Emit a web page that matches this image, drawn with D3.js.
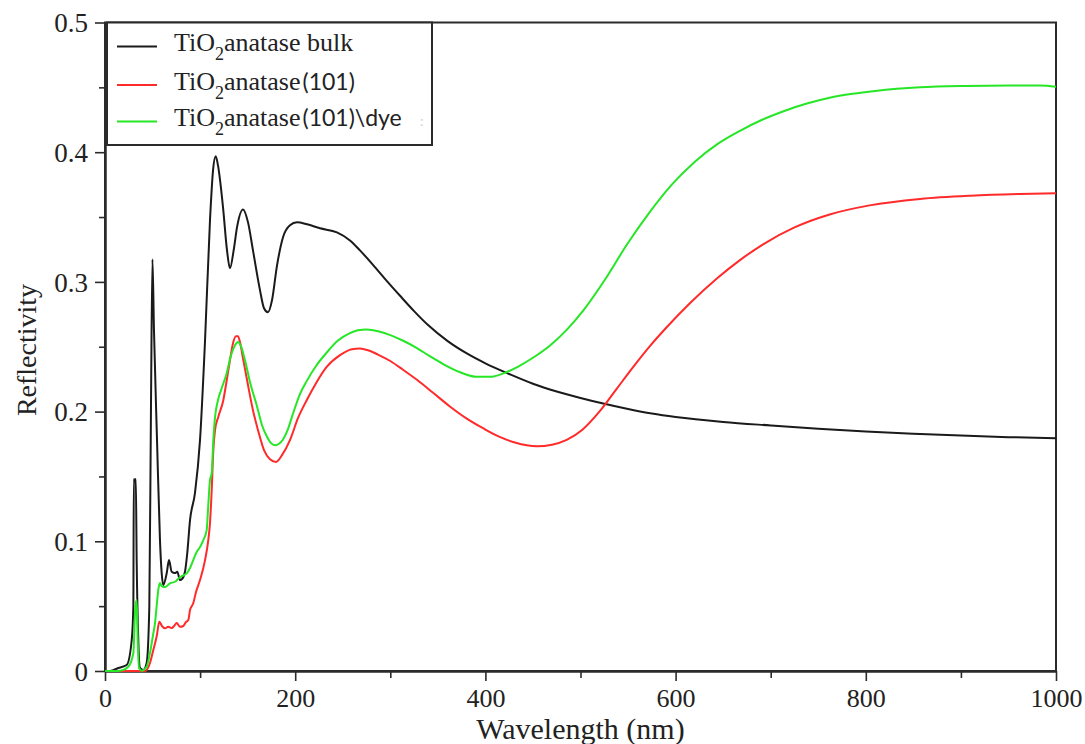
<!DOCTYPE html>
<html>
<head>
<meta charset="utf-8">
<script src="https://cdn.jsdelivr.net/npm/d3@7"></script>
<style>
  html, body { margin: 0; padding: 0; background: #fff; }
  svg { display: block; }
</style>
</head>
<body>
<svg id="chart" width="1085" height="744"></svg>
<script>
// Reflectivity spectra of anatase TiO2: bulk, (101) surface, and (101) surface with dye
const bulkNm = [0, 5.3, 14.0, 22.8, 28.1, 29.8, 30.3, 31.3, 32.4, 33.3, 35.0, 36.8, 40.3, 43.8, 46.6, 48.4, 49.9, 51.5, 54.7, 57.8, 59.6, 61.3, 64.9, 67.3, 70.1, 73.6, 76.0, 78.9, 81.0, 84.1, 86.5, 89.4, 94.6, 99.9, 105.2, 110.4, 113.6, 116.4, 118.8, 124.1, 128.3, 131.4, 135.6, 138.8, 145.1, 150.4, 155.6, 163.0, 167.2, 171.4, 175.6, 180.9, 187.2, 194.5, 201.9, 212.4, 226.1, 243.9, 257.6, 268.1, 282, 296, 310, 325, 340, 360, 380, 400, 425, 450, 475, 500, 525, 550, 575, 600, 650, 700, 750, 800, 850, 900, 950, 1000];
const bulkR = [0, 0, 0.0023, 0.0046, 0.0239, 0.0495, 0.148, 0.1456, 0.148, 0.0855, 0.0239, 0.0023, 0.0008, 0.0062, 0.0495, 0.2088, 0.3174, 0.2627, 0.178, 0.1009, 0.0755, 0.0663, 0.0755, 0.0855, 0.0765, 0.0755, 0.0765, 0.0701, 0.0709, 0.0765, 0.0909, 0.1163, 0.1371, 0.178, 0.255, 0.3475, 0.386, 0.3968, 0.3898, 0.3575, 0.3243, 0.3105, 0.3259, 0.342, 0.3559, 0.3459, 0.3243, 0.2935, 0.2797, 0.2766, 0.2858, 0.3128, 0.3344, 0.3436, 0.3459, 0.3444, 0.3413, 0.3382, 0.332, 0.3243, 0.313, 0.301, 0.2895, 0.2775, 0.2665, 0.2545, 0.245, 0.2372, 0.229, 0.2215, 0.2155, 0.2105, 0.206, 0.202, 0.1985, 0.1958, 0.192, 0.1893, 0.1868, 0.1847, 0.183, 0.1815, 0.1803, 0.1795];

const surfNm = [0, 30, 40.3, 42.1, 47.3, 50.8, 54.4, 57.1, 59.9, 63.1, 66.6, 70.1, 72.6, 75.4, 78.9, 82.3, 85.2, 87.6, 89.4, 92.8, 95.7, 99.9, 105.2, 108.6, 110.4, 112.2, 113.9, 115.7, 119.1, 124.4, 128.0, 131.4, 134.6, 137.7, 139.8, 142.0, 145.1, 150.4, 155.6, 160.9, 167.2, 173.5, 179.8, 186.1, 194.5, 202.9, 212.1, 221.9, 233.1, 247.1, 259.7, 268.1, 276.6, 287, 300, 313, 328, 345, 363, 380, 398, 415, 431, 454, 470, 485.5, 502, 520.5, 538, 555.5, 573, 590.6, 615, 644, 668, 692, 725, 762, 804, 857, 910, 962, 1000];
const surfR = [0, 0, 0, 0, 0.0062, 0.0162, 0.027, 0.038, 0.0347, 0.0329, 0.0341, 0.0331, 0.0347, 0.037, 0.0341, 0.0347, 0.0378, 0.0393, 0.047, 0.0522, 0.0609, 0.0701, 0.0855, 0.1009, 0.114, 0.1394, 0.1703, 0.1857, 0.1959, 0.2088, 0.2242, 0.2396, 0.2527, 0.2581, 0.2581, 0.2535, 0.2411, 0.2203, 0.2011, 0.1857, 0.1703, 0.1633, 0.1612, 0.1664, 0.178, 0.1949, 0.2088, 0.2219, 0.2344, 0.2435, 0.2481, 0.2486, 0.2473, 0.244, 0.239, 0.2325, 0.2245, 0.2145, 0.2038, 0.1948, 0.187, 0.1805, 0.1762, 0.1733, 0.1745, 0.1782, 0.186, 0.2005, 0.2175, 0.2345, 0.2505, 0.2650, 0.2835, 0.303, 0.317, 0.329, 0.342, 0.352, 0.359, 0.364, 0.3665, 0.3678, 0.3683];

const dyeNm = [0, 10, 15.8, 24.5, 29.8, 31.9, 33.3, 34.4, 35.8, 38.6, 43.8, 47.3, 50.5, 52.6, 54.4, 56.0, 57.8, 59.6, 63.1, 68.3, 73.6, 78.9, 83.1, 85.9, 89.4, 92.8, 96.4, 99.9, 103.4, 106.9, 108.3, 110.4, 112.2, 113.9, 115.7, 118.8, 122.0, 128.0, 132.5, 136.7, 139.8, 143.0, 147.2, 152.5, 159.5, 165.1, 170.1, 174.6, 178.8, 183.0, 187.2, 192.4, 197.7, 205.0, 212.1, 221.9, 233.1, 245.0, 257.6, 266.0, 275.2, 287, 300, 313, 328, 342, 356, 373, 391, 405, 419, 434, 450, 468, 485.5, 503, 526, 549, 573, 596, 620, 643.5, 667.7, 691, 715, 738, 762, 786, 810, 857, 904, 952, 983, 1000];
const dyeR = [0, 0, 0.0002, 0.0033, 0.0139, 0.0495, 0.0547, 0.0239, 0.0023, 0.0002, 0.0033, 0.0139, 0.0277, 0.037, 0.0508, 0.0624, 0.0678, 0.0655, 0.0647, 0.0676, 0.0688, 0.0724, 0.074, 0.0753, 0.0794, 0.0855, 0.0917, 0.0955, 0.1009, 0.1086, 0.124, 0.1471, 0.1525, 0.178, 0.1957, 0.2088, 0.2165, 0.2296, 0.2435, 0.2512, 0.2537, 0.2504, 0.2396, 0.2227, 0.2049, 0.1895, 0.181, 0.1757, 0.1741, 0.1752, 0.1785, 0.1865, 0.1985, 0.2135, 0.2235, 0.2352, 0.2455, 0.2548, 0.2605, 0.2627, 0.2633, 0.262, 0.259, 0.2548, 0.249, 0.2425, 0.2365, 0.2305, 0.2268, 0.2268, 0.2295, 0.2345, 0.2415, 0.251, 0.263, 0.278, 0.302, 0.329, 0.354, 0.375, 0.3925, 0.406, 0.4165, 0.425, 0.432, 0.4375, 0.442, 0.445, 0.4472, 0.45, 0.4511, 0.4515, 0.4515, 0.4505];

const xTicks = [0, 200, 400, 600, 800, 1000];
const xMinorTicks = [100, 300, 500, 700, 900];
const yTicks = [0, 0.1, 0.2, 0.3, 0.4, 0.5];
const yMinorTicks = [0.05, 0.15, 0.25, 0.35, 0.45];

const seriesNames = ["bulk", "(101)", "(101)\\dye"];
const seriesColors = ["#1a1a1a", "#ff2a2a", "#26e626"];

const series = [
  { name: seriesNames[0], color: seriesColors[0], nm: bulkNm, r: bulkR },
  { name: seriesNames[1], color: seriesColors[1], nm: surfNm, r: surfR },
  { name: seriesNames[2], color: seriesColors[2], nm: dyeNm, r: dyeR }
];

const svg = d3.select("#chart");
const plotLeft = 105, plotRight = 1056, plotTop = 22.5, plotBottom = 671;
const serif = "'Liberation Serif', 'Times New Roman', serif";
const sans = "Lato, 'Liberation Sans', sans-serif";
const axisColor = "#2b2b2b";

const x = d3.scaleLinear().domain([0, 1000]).range([plotLeft, plotRight]);
const y = d3.scaleLinear().domain([0, 0.5]).range([plotBottom, plotTop]);

// frame
svg.append("rect")
  .attr("x", plotLeft).attr("y", plotTop)
  .attr("width", plotRight - plotLeft).attr("height", plotBottom - plotTop)
  .attr("fill", "none").attr("stroke", axisColor).attr("stroke-width", 2);

// x axis: major and minor ticks
const gx = svg.append("g").attr("transform", `translate(0,${plotBottom})`);
gx.call(d3.axisBottom(x).tickValues(xTicks).tickSize(10).tickSizeOuter(0).tickFormat(d3.format("d")));
gx.append("g").call(d3.axisBottom(x).tickValues(xMinorTicks).tickSize(7).tickSizeOuter(0).tickFormat(""));
gx.selectAll(".domain").attr("stroke", axisColor).attr("stroke-width", 2);
gx.selectAll(".tick line").attr("stroke", axisColor).attr("stroke-width", 1.6);
gx.selectAll(".tick text")
  .attr("font-family", serif).attr("font-size", 26).attr("fill", "#222")
  .attr("y", 18).attr("dy", "0.71em");

// y axis: major and minor ticks
const gy = svg.append("g").attr("transform", `translate(${plotLeft},0)`);
gy.call(d3.axisLeft(y).tickValues(yTicks).tickSize(10).tickSizeOuter(0)
  .tickFormat(d => d === 0 ? "0" : d3.format(".1f")(d)));
gy.append("g").call(d3.axisLeft(y).tickValues(yMinorTicks).tickSize(6).tickSizeOuter(0).tickFormat(""));
gy.selectAll(".domain").attr("stroke", axisColor).attr("stroke-width", 2);
gy.selectAll(".tick line").attr("stroke", axisColor).attr("stroke-width", 1.6);
gy.selectAll(".tick text")
  .attr("font-family", serif).attr("font-size", 27).attr("fill", "#222")
  .attr("x", -17).attr("dy", "0.34em");

// axis titles
svg.append("text")
  .attr("x", (plotLeft + plotRight) / 2).attr("y", 739)
  .attr("text-anchor", "middle")
  .attr("font-family", serif).attr("font-size", 30).attr("fill", "#222")
  .text("Wavelength (nm)");

svg.append("text")
  .attr("transform", `translate(36,350) rotate(-90)`)
  .attr("text-anchor", "middle")
  .attr("font-family", serif).attr("font-size", 28).attr("fill", "#222")
  .text("Reflectivity");

// curves
const line = d3.line()
  .x(d => x(d[0]))
  .y(d => y(d[1]))
  .curve(d3.curveMonotoneX);

const plot = svg.append("g");
series.forEach(s => {
  const pts = s.nm.map((v, i) => [v, s.r[i]]);
  plot.append("path")
    .datum(pts)
    .attr("fill", "none")
    .attr("stroke", s.color)
    .attr("stroke-width", 2)
    .attr("stroke-linejoin", "round")
    .attr("d", line);
});

// legend
const legend = svg.append("g");
legend.append("rect")
  .attr("x", 107).attr("y", 22.5)
  .attr("width", 325).attr("height", 122.5)
  .attr("fill", "#fff").attr("stroke", axisColor).attr("stroke-width", 2);

const rowY = [46.5, 85, 121.5];
series.forEach((s, i) => {
  legend.append("line")
    .attr("x1", 117).attr("x2", 157)
    .attr("y1", rowY[i]).attr("y2", rowY[i])
    .attr("stroke", s.color).attr("stroke-width", 2);
  const t = legend.append("text")
    .attr("x", 174).attr("y", rowY[i] + 4.5)
    .attr("font-family", serif).attr("font-size", 26).attr("fill", "#222");
  t.append("tspan").text("TiO");
  t.append("tspan").attr("font-size", 18).attr("dy", 9).text("2");
  t.append("tspan").attr("dy", -9).text("anatase");
  if (i === 0) {
    t.append("tspan").text(" " + s.name);
  } else {
    t.append("tspan").attr("font-family", sans).attr("font-size", 23).attr("dx", 2).text(s.name);
  }
});
legend.append("text")
  .attr("x", 420).attr("y", 126)
  .attr("font-family", sans).attr("font-size", 14).attr("fill", "#cfcfcf")
  .text(":");
</script>
</body>
</html>
